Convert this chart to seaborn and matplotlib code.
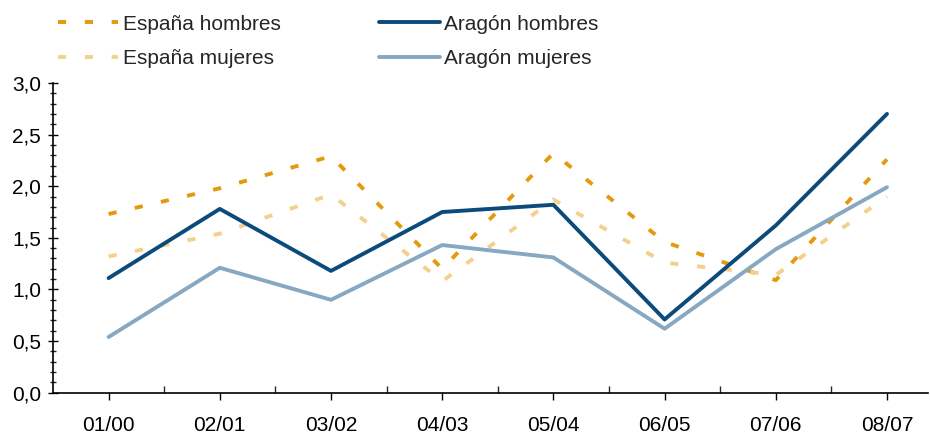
import matplotlib
matplotlib.use('Agg')
import matplotlib.pyplot as plt
import pandas as pd
import seaborn as sns
from matplotlib.ticker import MultipleLocator, FuncFormatter

periods = ['01/00', '02/01', '03/02', '04/03', '05/04', '06/05', '07/06', '08/07']
espana_hombres = [1.73, 1.98, 2.29, 1.20, 2.32, 1.46, 1.09, 2.26]
espana_mujeres = [1.32, 1.54, 1.92, 1.08, 1.87, 1.26, 1.14, 1.90]
aragon_hombres = [1.11, 1.78, 1.18, 1.75, 1.82, 0.71, 1.62, 2.70]
aragon_mujeres = [0.54, 1.21, 0.90, 1.43, 1.31, 0.62, 1.39, 1.99]

series = {
    'España hombres': espana_hombres,
    'España mujeres': espana_mujeres,
    'Aragón hombres': aragon_hombres,
    'Aragón mujeres': aragon_mujeres,
}
rows = []
for name, vals in series.items():
    for i, v in enumerate(vals):
        rows.append({'serie': name, 'x': i, 'valor': v})
df = pd.DataFrame(rows)

palette = {
    'España hombres': '#E39A0C',
    'España mujeres': '#F3D08C',
    'Aragón hombres': '#0B4B7B',
    'Aragón mujeres': '#86A8C2',
}
dash = (2.1, 4.8)
dashes = {
    'España hombres': dash,
    'España mujeres': dash,
    'Aragón hombres': '',
    'Aragón mujeres': '',
}
# column-wise fill of a 2-column legend -> rows read EH/AH, EM/AM
order = ['España hombres', 'España mujeres', 'Aragón hombres', 'Aragón mujeres']

sns.set_style('white')
plt.rcParams['font.family'] = ['Liberation Sans', 'DejaVu Sans']

fig = plt.figure(figsize=(9.3, 4.34), dpi=100)
ax = fig.add_axes([0.057, 0.095, 0.941, 0.714])

sns.lineplot(data=df, x='x', y='valor', hue='serie', style='serie',
             hue_order=order, style_order=order,
             palette=palette, dashes=dashes, linewidth=2.8, ax=ax, legend=True)

ax.set_xlim(-0.5, 7.37)
ax.set_ylim(0, 3.0)
ax.set_xlabel('')
ax.set_ylabel('')

ax.set_xticks(range(len(periods)))
ax.set_xticklabels(periods)
ax.set_xticks([i + 0.5 for i in range(len(periods) - 1)], minor=True)
ax.tick_params(axis='x', which='major', direction='out', length=5, width=1,
               pad=12, labelsize=15, colors='black')
ax.tick_params(axis='x', which='minor', direction='in', length=5, width=1)

ax.yaxis.set_major_locator(MultipleLocator(0.5))
ax.yaxis.set_minor_locator(MultipleLocator(0.1))
ax.yaxis.set_major_formatter(FuncFormatter(lambda v, p: f'{v:.1f}'.replace('.', ',')))
ax.tick_params(axis='y', which='major', direction='inout', length=7, width=1,
               pad=5, labelsize=15, colors='black', left=True)
ax.tick_params(axis='y', which='minor', direction='inout', length=4, width=1, left=True)
ax.tick_params(axis='x', which='both', bottom=True)

for s in ['top', 'right']:
    ax.spines[s].set_visible(False)
for s in ['left', 'bottom']:
    ax.spines[s].set_color('black')
    ax.spines[s].set_linewidth(1.2)

handles, labels = ax.get_legend_handles_labels()
leg = ax.legend(handles, labels, ncol=2, frameon=False, fontsize=15,
                loc='upper left', bbox_to_anchor=(0.049, 0.995),
                bbox_transform=fig.transFigure,
                handlelength=2.9, handletextpad=0.2, columnspacing=4.75,
                labelspacing=0.75, borderaxespad=0.2)
for line in leg.get_lines():
    line.set_linewidth(2.8)

fig.savefig('out.png', dpi=100)
